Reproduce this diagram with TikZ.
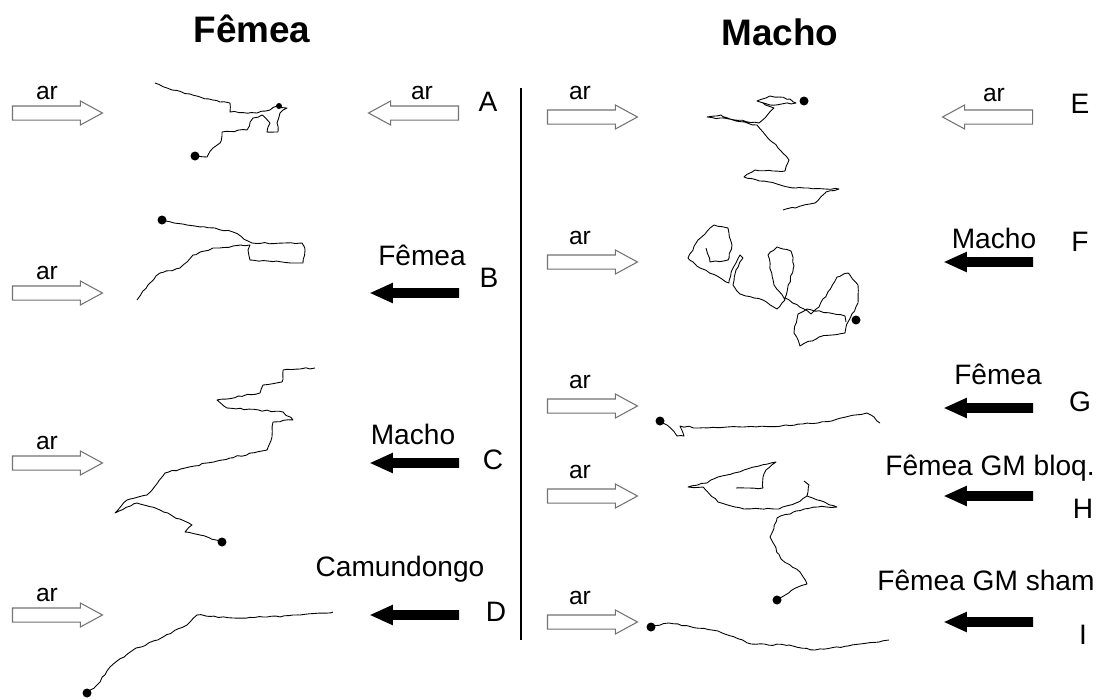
\documentclass[tikz,border=0pt]{standalone}
\usepackage{fontspec}
\setmainfont{Liberation Sans}
\usetikzlibrary{shapes.arrows, decorations.pathmorphing}

\begin{document}
\begin{tikzpicture}[
    x=0.02cm, y=-0.02cm,
    oarrow/.style={single arrow, draw=black!55, fill=white, line width=0.6pt,
                   minimum height=1.8cm, inner xsep=0pt, inner ysep=0.13cm,
                   single arrow head extend=0.1cm, single arrow tip angle=57},
    barrow/.style={single arrow, fill=black, shape border rotate=180,
                   minimum height=1.78cm, inner xsep=0pt, inner ysep=0.09cm,
                   single arrow head extend=0.11cm, single arrow tip angle=49},
    arlbl/.style={font=\fontsize{14}{16}\selectfont, inner sep=0pt},
    lbl/.style={font=\fontsize{16}{18}\selectfont, inner sep=0pt},
    tag/.style={font=\fontsize{16}{18}\selectfont, inner sep=0pt},
    ttl/.style={font=\bfseries\fontsize{21}{24}\selectfont, inner sep=0pt, anchor=base},
    traj/.style={line width=0.5pt, line join=round,
                 decorate, decoration={random steps, segment length=2.5pt, amplitude=0.45pt}},
    dot/.style={fill=black}
]
    \pgfmathsetseed{7}
    \useasboundingbox (0,0) rectangle (1103,700);

    % titles and divider
    \node[ttl] (tf) at (252,42) {Fêmea};
    \node[ttl] (tm) at (780,45) {Macho};
    \coordinate (divtop) at (521,88);
    \coordinate (divbot) at (521,640);
    \draw[line width=0.6pt] (divtop) -- (divbot);

    % left column: air inlet arrows
    \foreach \nm/\yy in {A/113, B/293, C/463, D/615} {
        \node[oarrow] (in\nm) at (51,\yy) {};
        \node[arlbl] (ar\nm) at (47,\yy-20) {ar};
    }
    % left column: stimulus side
    \node[oarrow, shape border rotate=180] (stA) at (420,113) {};
    \node[arlbl] (sarA) at (422,93) {ar};
    \node[barrow] (stB) at (420,293) {};
    \node[lbl] (lbB) at (422,255) {Fêmea};
    \node[barrow] (stC) at (420,463) {};
    \node[lbl] (lbC) at (413,434) {Macho};
    \node[barrow] (stD) at (420,615) {};
    \node[lbl] (lbD) at (400,569) {Camundongo};

    \node[tag] (tA) at (488,102) {A};
    \node[tag] (tB) at (489,278) {B};
    \node[tag] (tC) at (493,460) {C};
    \node[tag] (tD) at (496,612) {D};

    % right column: air inlet arrows
    \foreach \nm/\yy in {E/117, F/262, G/406, H/496, I/622} {
        \node[oarrow] (in\nm) at (586,\yy) {};
        \node[arlbl] (ar\nm) at (580,\yy-24) {ar};
    }
    % right column: stimulus side
    \node[oarrow, shape border rotate=180] (stE) at (994,117) {};
    \node[arlbl] (sarE) at (994,95) {ar};
    \node[barrow] (stF) at (994,262) {};
    \node[lbl] (lbF) at (994,238) {Macho};
    \node[barrow] (stG) at (994,408) {};
    \node[lbl] (lbG) at (998,374) {Fêmea};
    \node[barrow] (stH) at (994,496) {};
    \node[lbl] (lbH) at (990,468) {Fêmea GM bloq.};
    \node[barrow] (stI) at (994,622) {};
    \node[lbl] (lbI) at (986,580) {Fêmea GM sham};

    \node[tag] (tE) at (1080,104) {E};
    \node[tag] (tF) at (1080,242) {F};
    \node[tag] (tG) at (1080,402) {G};
    \node[tag] (tH) at (1083,509) {H};
    \node[tag] (tI) at (1083,635) {I};

    % tracks
    \draw[traj] (155,83) -- (172,90) -- (200,97) -- (220,102) -- (230,103) -- (230,112)
        -- (257,113) -- (270,110) -- (277,106) -- (287,108) -- (280,113) -- (277,123)
        -- (278,132) -- (267,132) -- (270,123) -- (262,115) -- (253,118) -- (247,130)
        -- (222,132) -- (220,143) -- (213,148) -- (207,157) -- (197,156);
    \fill[dot] (195,156) circle (4.5);
    \fill[dot] (279,106) circle (3);

    \draw[traj] (162,220) -- (187,225) -- (215,228) -- (233,232) -- (250,242) -- (252,243)
        -- (302,243) -- (305,250) -- (303,263) -- (250,260) -- (248,250) -- (250,245)
        -- (213,248) -- (193,255) -- (180,268) -- (160,273) -- (148,285) -- (137,300);
    \fill[dot] (162,220) circle (4.5);

    \draw[traj] (315,368) -- (300,369) -- (283,370) -- (282,382) -- (263,385) -- (260,393)
        -- (217,400) -- (227,408) -- (283,412) -- (293,420) -- (273,422) -- (272,437)
        -- (267,450) -- (230,458) -- (207,463) -- (165,473) -- (147,495) -- (127,500)
        -- (115,513) -- (137,503) -- (160,510) -- (192,525) -- (185,532) -- (200,535)
        -- (222,542);
    \fill[dot] (222,542) circle (4.5);

    \draw[traj] (87,693) -- (97,685) -- (110,667) -- (133,650) -- (163,637) -- (187,625)
        -- (197,615) -- (233,618) -- (267,617) -- (300,615) -- (333,612);
    \fill[dot] (87,693) circle (4.5);

    \draw[traj] (783,210) -- (815,203) -- (826,192) -- (839,189) -- (796,188) -- (777,184)
        -- (744,177) -- (755,170) -- (785,171) -- (789,160) -- (781,151) -- (763,132)
        -- (757,125) -- (736,121) -- (721,115) -- (707,117) -- (729,119) -- (759,123)
        -- (774,108) -- (757,101) -- (770,96) -- (790,99) -- (796,103) -- (770,105)
        -- (760,102);
    \fill[dot] (804,101) circle (4.5);

    \draw[traj] (846,322) -- (845,316) -- (807,309) -- (798,314) -- (794,333) -- (800,346)
        -- (819,337) -- (845,333) -- (848,322) -- (858,303) -- (858,285) -- (848,273)
        -- (837,277) -- (819,307) -- (811,314) -- (804,309) -- (785,298) -- (794,266)
        -- (791,251) -- (777,247) -- (768,255) -- (774,285) -- (785,300) -- (777,309)
        -- (763,300) -- (740,294) -- (733,285) -- (736,270) -- (743,258) -- (740,255)
        -- (733,268) -- (729,283) -- (700,268) -- (688,258) -- (698,240) -- (714,225)
        -- (728,228) -- (732,245) -- (728,260) -- (710,262) -- (706,248);
    \fill[dot] (856,320) circle (4.5);

    \draw[traj] (660,421) -- (667,425) -- (677,436) -- (684,436) -- (680,426) -- (699,428)
        -- (781,426) -- (818,423) -- (867,413) -- (874,417) -- (880,423);
    \fill[dot] (660,421) circle (4.5);

    \draw[traj] (777,600) -- (798,587) -- (807,584) -- (800,572) -- (781,559) -- (770,537)
        -- (777,518) -- (796,511) -- (818,507) -- (837,507) -- (807,496) -- (796,503)
        -- (777,509) -- (744,509) -- (718,502) -- (703,487) -- (688,487) -- (707,483)
        -- (718,477) -- (744,470) -- (759,466) -- (776,462) -- (766,470) -- (763,477)
        -- (763,488) -- (748,488) -- (736,488)
        (807,496) -- (809,485) -- (804,481);
    \fill[dot] (777,600) circle (4.5);

    \draw[traj] (651,627) -- (669,623) -- (718,631) -- (751,644) -- (789,645) -- (815,650)
        -- (848,646) -- (889,640);
    \fill[dot] (651,627) circle (4.5);
\end{tikzpicture}
\end{document}
